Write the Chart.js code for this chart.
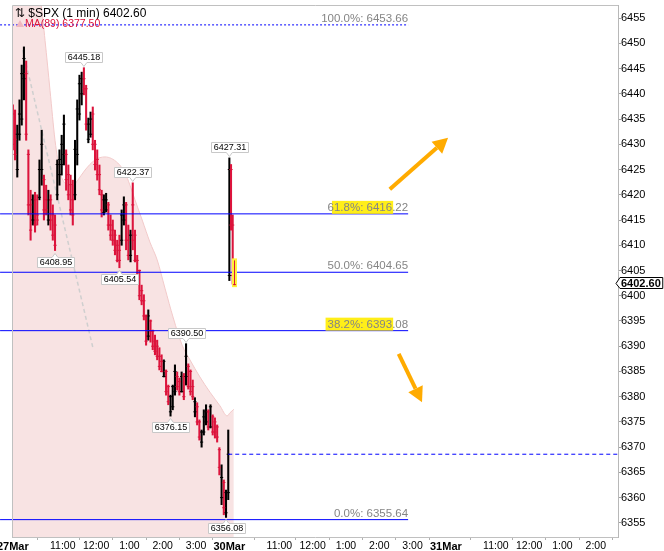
<!DOCTYPE html>
<html>
<head>
<meta charset="utf-8">
<style>
  html, body { margin: 0; padding: 0; background: #fff; }
  canvas { display: block; }
</style>
<script src="https://cdn.jsdelivr.net/npm/chart.js@4.4.1/dist/chart.umd.min.js"></script>
</head>
<body>
<canvas id="myChart" width="664" height="551"></canvas>
<script>
// x = minutes after 27Mar 9:30 open (30Mar opens at 390, 31Mar at 780)
// 27Mar, one bar every 4 minutes
var day1Open = [6436, 6431, 6425, 6432, 6435, 6443, 6444, 6428, 6418, 6415, 6419, 6416, 6419.5, 6425, 6423, 6419, 6415, 6419, 6416, 6414,
  6420, 6424, 6426, 6428, 6428, 6424, 6422, 6419, 6420, 6428, 6436, 6440, 6443, 6441, 6431, 6432, 6436, 6430, 6427, 6424,
  6420, 6416.5, 6417, 6418, 6414, 6413, 6412, 6410, 6409, 6411, 6415, 6418, 6411, 6408, 6418, 6412, 6407, 6405, 6401, 6399,
  6396, 6392, 6395, 6393, 6391, 6390, 6388, 6387, 6384, 6385, 6382, 6377, 6378, 6381, 6384, 6383, 6381, 6384, 6384, 6386,
  6385, 6382, 6377, 6378, 6375, 6371, 6373, 6375, 6377, 6374, 6376, 6375, 6374, 6369.5, 6360, 6363, 6357, 6361];
var day1High = [6437.8, 6436.8, 6433.8, 6438.8, 6445.7, 6449.3, 6446.5, 6428.9, 6420.9, 6420.0, 6420.5, 6420.0, 6426.9, 6432.8, 6423.9, 6421.9, 6420.9, 6420.0, 6418.0, 6416.0,
  6426.9, 6428.9, 6431.8, 6435.8, 6428.9, 6425.9, 6423.9, 6422.9, 6430.8, 6438.8, 6443.7, 6444.3, 6445.18, 6441.7, 6435.2, 6436.4, 6437.4, 6430.8, 6428.9, 6425.9,
  6420.9, 6420.0, 6420.3, 6418.5, 6416.0, 6415.0, 6413.0, 6411.0, 6412.0, 6417.0, 6419.6, 6418.5, 6414.0, 6413.0, 6422.37, 6413.0, 6408.0, 6405.1, 6402.1, 6400.2,
  6396.2, 6397.2, 6395.2, 6393.2, 6392.2, 6391.2, 6389.7, 6388.3, 6387.3, 6385.3, 6382.3, 6380.3, 6382.3, 6386.3, 6384.9, 6383.7, 6384.9, 6384.6, 6390.50, 6386.5,
  6385.3, 6383.3, 6379.8, 6378.8, 6375.4, 6373.4, 6377.4, 6378.4, 6377.4, 6378.4, 6376.4, 6375.8, 6374.4, 6369.9, 6366.5, 6363.5, 6361.5, 6373.4];
var day1Low = [6428.9, 6426.9, 6423.5, 6430.8, 6433.8, 6438.8, 6430.8, 6416.0, 6411.0, 6414.0, 6412.6, 6414.0, 6419.0, 6421.9, 6415.0, 6416.0, 6414.0, 6413.0, 6411.0, 6408.95,
  6419.0, 6421.9, 6423.9, 6425.9, 6420.9, 6419.0, 6416.0, 6414.0, 6419.0, 6425.9, 6434.8, 6437.8, 6439.8, 6432.8, 6430.3, 6431.4, 6428.9, 6424.9, 6422.9, 6420.0,
  6415.6, 6416.0, 6416.6, 6413.0, 6411.0, 6410.0, 6408.1, 6406.7, 6405.54, 6410.0, 6414.0, 6409.1, 6407.1, 6406.7, 6409.1, 6406.7, 6403.1, 6399.2, 6398.2, 6395.2,
  6390.2, 6391.2, 6390.8, 6389.3, 6388.3, 6387.3, 6385.3, 6384.9, 6383.9, 6380.3, 6378.4, 6376.15, 6377.4, 6380.3, 6381.3, 6380.3, 6380.9, 6379.4, 6382.3, 6381.5,
  6380.3, 6379.4, 6376.0, 6374.4, 6371.4, 6370.0, 6372.4, 6374.4, 6373.4, 6373.8, 6372.4, 6371.8, 6371.0, 6364.5, 6358.6, 6356.6, 6356.08, 6359.6];
var day1Close = [6430, 6428, 6432, 6436, 6444, 6447, 6432, 6418, 6413, 6419, 6414, 6415, 6425, 6430, 6417, 6417, 6419, 6415, 6412, 6410,
  6426, 6427, 6430, 6434, 6423, 6420, 6417, 6416, 6429, 6437, 6442, 6443, 6441, 6434, 6434, 6435, 6430, 6426, 6424, 6421,
  6417, 6419, 6419, 6414, 6412, 6411, 6409, 6407, 6407, 6416, 6418, 6411, 6408, 6412, 6411, 6407, 6404, 6400, 6399, 6396,
  6391, 6396, 6393, 6390, 6389, 6388, 6386, 6385, 6387, 6381, 6379, 6380, 6382, 6385, 6382, 6381, 6384, 6380, 6388, 6382,
  6381, 6380, 6379, 6375, 6372, 6373, 6376, 6377, 6374, 6378, 6373, 6373, 6372, 6366, 6364, 6358, 6361, 6368.6];
var day1Minutes = day1Close.map(function (c, i) { return i * 4; });

// 30Mar, first minutes
var day2Minutes = [390, 393, 396, 399];
var day2Open = [6404, 6425, 6414, 6406];
var day2High = [6427.31, 6426, 6416, 6407];
var day2Low = [6403, 6413, 6402.3, 6402.1];
var day2Close = [6425, 6414, 6404, 6402.60];

// MA(89)
var maMinutes = [0, 22, 40, 51, 58, 67, 76, 85, 96, 107, 117, 130, 148, 166, 189, 202, 211, 220, 233, 247,
  260, 274, 289, 305, 319, 337, 355, 373, 386, 391, 398];
var maValues = [6470.4, 6464.5, 6460.1, 6457.6, 6450.6, 6440.7, 6430.8, 6424.5, 6422.1, 6421.7, 6422.9, 6424.9, 6426.9, 6427.5, 6426.3, 6424.3, 6421.9, 6419.0, 6415.0, 6410.6,
  6407.1, 6401.5, 6395.6, 6390.2, 6387.3, 6383.9, 6380.9, 6378.2, 6376.2, 6376.8, 6377.5];

// fibonacci retracement
var fibNames = ['0.0%', '38.2%', '50.0%', '61.8%', '100.0%'];
var fibLevels = [6355.64, 6393.08, 6404.65, 6416.22, 6453.66];
var fibHighlight = [null, [0, 11], null, [1, 11], null];
var fibFrom = -23, fibTo = 712;

var prevClose = 6368.6;
var trendMinutes = [18, 144];
var trendPrices = [6448.66, 6389.8];

// high / low call-outs
var calloutMinutes = [128, 390, 216, 76, 192, 312, 284, 384];
var calloutPrices = [6445.18, 6427.31, 6422.37, 6408.95, 6405.54, 6390.50, 6376.15, 6356.08];
var calloutSide = ['up', 'up', 'up', 'down', 'down', 'up', 'down', 'down'];

// orange arrows [tailMinute, tailPrice, tipMinute, tipPrice]
var arrows = [[679, 6421.1, 784, 6431.3], [695, 6388.5, 737, 6378.9]];

// axes
var xTickMinutes = [0, 90, 150, 210, 270, 330, 390, 480, 540, 600, 660, 720, 780, 870, 930, 990, 1050];
var xTickLabels = ['27Mar', '11:00', '12:00', '1:00', '2:00', '3:00', '30Mar', '11:00', '12:00', '1:00', '2:00', '3:00', '31Mar', '11:00', '12:00', '1:00', '2:00'];
var yTickLabels = [6355, 6360, 6365, 6370, 6375, 6380, 6385, 6390, 6395, 6400, 6405, 6410, 6415, 6420, 6425, 6430, 6435, 6440, 6445, 6450, 6455];

var FONT = "'Liberation Sans', Arial, sans-serif";
var RED = '#dc143c';

var barMinutes = day1Minutes.concat(day2Minutes);
var barOpen = day1Open.concat(day2Open);
var barHigh = day1High.concat(day2High);
var barLow = day1Low.concat(day2Low);
var barClose = day1Close.concat(day2Close);
var barColors = barClose.map(function (c, i) { return c >= barOpen[i] ? '#000000' : RED; });
var lastPrice = barClose[barClose.length - 1];

var datasets = [];

// price bars (high-low) and open/close ticks
datasets.push({
  type: 'bar',
  order: 3,
  data: barMinutes.map(function (m, i) { return { x: m, y: [barLow[i], barHigh[i]] }; }),
  backgroundColor: barColors,
  barThickness: 1.4,
  borderWidth: 0
});
datasets.push({
  type: 'line', order: 2, showLine: false,
  data: barMinutes.map(function (m, i) { return { x: m, y: barOpen[i] }; }),
  pointStyle: 'line', pointRadius: 1.6, pointBorderWidth: 1, pointBorderColor: barColors
});
datasets.push({
  type: 'line', order: 2, showLine: false,
  data: barMinutes.map(function (m, i) { return { x: m, y: barClose[i] }; }),
  pointStyle: 'line', pointRadius: 1.6, pointBorderWidth: 1, pointBorderColor: barColors
});

// MA shaded area
datasets.push({
  type: 'line',
  order: 10,
  data: maMinutes.map(function (m, i) { return { x: m, y: maValues[i] }; }),
  borderColor: '#f2caca',
  borderWidth: 1,
  backgroundColor: '#f8e3e3',
  fill: 'start',
  pointRadius: 0,
  cubicInterpolationMode: 'monotone'
});

// dashed trend line
datasets.push({
  type: 'line',
  order: 9,
  data: trendMinutes.map(function (m, i) { return { x: m, y: trendPrices[i] }; }),
  borderColor: '#cfcfcf',
  borderWidth: 1.5,
  borderDash: [4, 3],
  pointRadius: 0
});

// fib lines
fibLevels.forEach(function (v, i) {
  datasets.push({
    type: 'line',
    order: 1,
    clip: false,
    data: [{ x: fibFrom, y: v }, { x: fibTo, y: v }],
    borderColor: '#0000ff',
    borderWidth: 1,
    borderDash: fibNames[i] === '100.0%' ? [2, 2] : [],
    pointRadius: 0
  });
});

// previous close
datasets.push({
  type: 'line',
  order: 1,
  data: [{ x: 388, y: prevClose }, { x: 1090, y: prevClose }],
  borderColor: '#0000ff',
  borderWidth: 1,
  borderDash: [4, 3],
  pointRadius: 0
});

function drawArrow(ctx, x1, y1, x2, y2) {
  var ang = Math.atan2(y2 - y1, x2 - x1);
  var head = 15, half = 8;
  var bx = x2 - head * Math.cos(ang), by = y2 - head * Math.sin(ang);
  ctx.strokeStyle = '#ffab00';
  ctx.fillStyle = '#ffab00';
  ctx.lineWidth = 4;
  ctx.beginPath();
  ctx.moveTo(x1, y1);
  ctx.lineTo(bx, by);
  ctx.stroke();
  ctx.beginPath();
  ctx.moveTo(x2, y2);
  ctx.lineTo(bx + half * Math.sin(ang), by - half * Math.cos(ang));
  ctx.lineTo(bx - half * Math.sin(ang), by + half * Math.cos(ang));
  ctx.closePath();
  ctx.fill();
}

var overlay = {
  id: 'overlay',
  afterDatasetsDraw: function (chart) {
    var ctx = chart.ctx, a = chart.chartArea;
    var xs = chart.scales.x, ys = chart.scales.y;
    ctx.save();

    // frame
    ctx.strokeStyle = '#c0c0c0';
    ctx.lineWidth = 1;
    ctx.beginPath();
    ctx.moveTo(a.left + 0.5, a.bottom);
    ctx.lineTo(a.left + 0.5, a.top + 0.5);
    ctx.lineTo(a.right, a.top + 0.5);
    ctx.stroke();

    // fib labels
    ctx.font = '11.5px ' + FONT;
    ctx.textAlign = 'left';
    ctx.textBaseline = 'alphabetic';
    var endX = xs.getPixelForValue(fibTo);
    fibLevels.forEach(function (v, i) {
      var y = ys.getPixelForValue(v);
      var txt = fibNames[i] + ': ' + v.toFixed(2);
      var w = ctx.measureText(txt).width;
      var sx = endX - w;
      if (fibHighlight[i]) {
        var h0 = sx + ctx.measureText(txt.slice(0, fibHighlight[i][0])).width;
        var h1 = sx + ctx.measureText(txt.slice(0, fibHighlight[i][1])).width;
        ctx.fillStyle = 'rgba(255,236,0,0.9)';
        ctx.fillRect(h0 - 2, y - 13, h1 - h0 + 3, 13);
      }
      ctx.fillStyle = '#858585';
      ctx.fillText(txt, sx, y - 3);
    });

    // call-outs
    ctx.font = '9px ' + FONT;
    ctx.textAlign = 'center';
    ctx.textBaseline = 'middle';
    calloutMinutes.forEach(function (m, i) {
      var px = xs.getPixelForValue(m), py = ys.getPixelForValue(calloutPrices[i]);
      var txt = calloutPrices[i].toFixed(2);
      var w = Math.round(ctx.measureText(txt).width) + 4, h = 10;
      var bx = Math.round(px - w / 2) + 0.5;
      var by = calloutSide[i] === 'up' ? Math.round(py - 6 - h) + 0.5 : Math.round(py + 6) + 0.5;
      ctx.fillStyle = '#ffffff';
      ctx.strokeStyle = '#c8c8c8';
      ctx.beginPath();
      if (calloutSide[i] === 'up') {
        ctx.moveTo(bx, by); ctx.lineTo(bx + w, by); ctx.lineTo(bx + w, by + h);
        ctx.lineTo(px + 3, by + h); ctx.lineTo(px, by + h + 4); ctx.lineTo(px - 3, by + h);
        ctx.lineTo(bx, by + h);
      } else {
        ctx.moveTo(bx, by); ctx.lineTo(px - 3, by); ctx.lineTo(px, by - 4); ctx.lineTo(px + 3, by);
        ctx.lineTo(bx + w, by); ctx.lineTo(bx + w, by + h); ctx.lineTo(bx, by + h);
      }
      ctx.closePath();
      ctx.fill();
      ctx.stroke();
      ctx.fillStyle = '#000000';
      ctx.fillText(txt, bx + w / 2, by + h / 2 + 0.5);
    });

    // yellow mark on the last bar
    var lx = Math.round(xs.getPixelForValue(barMinutes[barMinutes.length - 1]));
    var lt = ys.getPixelForValue(barHigh[barHigh.length - 1]);
    var lb = ys.getPixelForValue(barLow[barLow.length - 1]);
    ctx.fillStyle = '#fff23a';
    ctx.fillRect(lx - 2, lt - 2, 5, lb - lt + 4);
    ctx.strokeStyle = RED;
    ctx.lineWidth = 1;
    ctx.beginPath();
    ctx.moveTo(lx + 0.5, lt); ctx.lineTo(lx + 0.5, lb);
    ctx.moveTo(lx - 1, lb - 0.5); ctx.lineTo(lx + 2, lb - 0.5);
    ctx.stroke();

    // arrows
    arrows.forEach(function (r) {
      drawArrow(ctx, xs.getPixelForValue(r[0]), ys.getPixelForValue(r[1]),
        xs.getPixelForValue(r[2]), ys.getPixelForValue(r[3]));
    });

    // title lines
    ctx.textAlign = 'left';
    ctx.textBaseline = 'alphabetic';
    ctx.fillStyle = '#000000';
    ctx.font = '12px ' + FONT;
    ctx.fillText('\u21c5 $SPX (1 min) ' + lastPrice.toFixed(2), a.left + 3, a.top + 12);
    ctx.fillStyle = '#f0b8c0';
    ctx.beginPath();
    ctx.moveTo(a.left + 4, a.top + 22);
    ctx.lineTo(a.left + 8, a.top + 15);
    ctx.lineTo(a.left + 12, a.top + 22);
    ctx.closePath();
    ctx.fill();
    ctx.fillStyle = RED;
    ctx.font = '10.5px ' + FONT;
    ctx.fillText('MA(89) ' + maValues[maValues.length - 1].toFixed(2), a.left + 13, a.top + 22);

    // last price tag on the axis
    var yp = Math.round(ys.getPixelForValue(lastPrice)) + 0.5;
    var tx = a.right - 2;
    ctx.font = 'bold 11px ' + FONT;
    var tw = ctx.measureText(lastPrice.toFixed(2)).width;
    ctx.fillStyle = '#ffffff';
    ctx.strokeStyle = '#000000';
    ctx.lineWidth = 1;
    ctx.beginPath();
    ctx.moveTo(tx, yp);
    ctx.lineTo(tx + 4, yp - 6);
    ctx.lineTo(tx + tw + 7, yp - 6);
    ctx.lineTo(tx + tw + 7, yp + 5);
    ctx.lineTo(tx + 4, yp + 5);
    ctx.closePath();
    ctx.fill();
    ctx.stroke();
    ctx.fillStyle = '#000000';
    ctx.textBaseline = 'middle';
    ctx.fillText(lastPrice.toFixed(2), tx + 5, yp);

    ctx.restore();
  }
};

var ctx = document.getElementById('myChart').getContext('2d');

var chart = new Chart(ctx, {
  type: 'bar',
  data: { datasets: datasets },
  options: {
    responsive: false,
    animation: false,
    devicePixelRatio: 1,
    events: [],
    layout: { padding: { left: 12, top: 5, right: 0, bottom: 0 } },
    plugins: { legend: { display: false }, tooltip: { enabled: false } },
    scales: {
      x: {
        type: 'linear',
        min: -1.5,
        max: 1090,
        offset: false,
        grid: { drawOnChartArea: false, tickLength: 3, color: '#b0b0b0' },
        border: { color: '#c0c0c0' },
        afterBuildTicks: function (scale) {
          scale.ticks = xTickMinutes.map(function (v) { return { value: v }; });
        },
        afterFit: function (scale) {
          scale.height = 14;
          scale.paddingLeft = 0;
          scale.paddingRight = 0;
        },
        ticks: {
          autoSkip: false,
          maxRotation: 0,
          minRotation: 0,
          padding: 0,
          color: '#000000',
          font: function (c) {
            var lab = xTickLabels[c.index] || '';
            return { family: FONT, size: lab.indexOf('Mar') > 0 ? 11 : 10.5, weight: lab.indexOf('Mar') > 0 ? 'bold' : 'normal' };
          },
          callback: function (value, index) { return xTickLabels[index]; }
        }
      },
      y: {
        type: 'linear',
        position: 'right',
        min: 6352.2,
        max: 6457.6,
        grid: { drawOnChartArea: false, tickLength: 3, color: '#a0a0a0' },
        border: { color: '#b8b8b8', dash: [1, 2] },
        afterBuildTicks: function (scale) {
          scale.ticks = yTickLabels.map(function (v) { return { value: v }; });
        },
        afterFit: function (scale) {
          scale.width = 46;
          scale.paddingTop = 0;
          scale.paddingBottom = 0;
        },
        ticks: {
          padding: 0,
          color: '#000000',
          font: { family: FONT, size: 11 },
          callback: function (value) { return String(value); }
        }
      }
    }
  },
  plugins: [overlay]
});
</script>
</body>
</html>
